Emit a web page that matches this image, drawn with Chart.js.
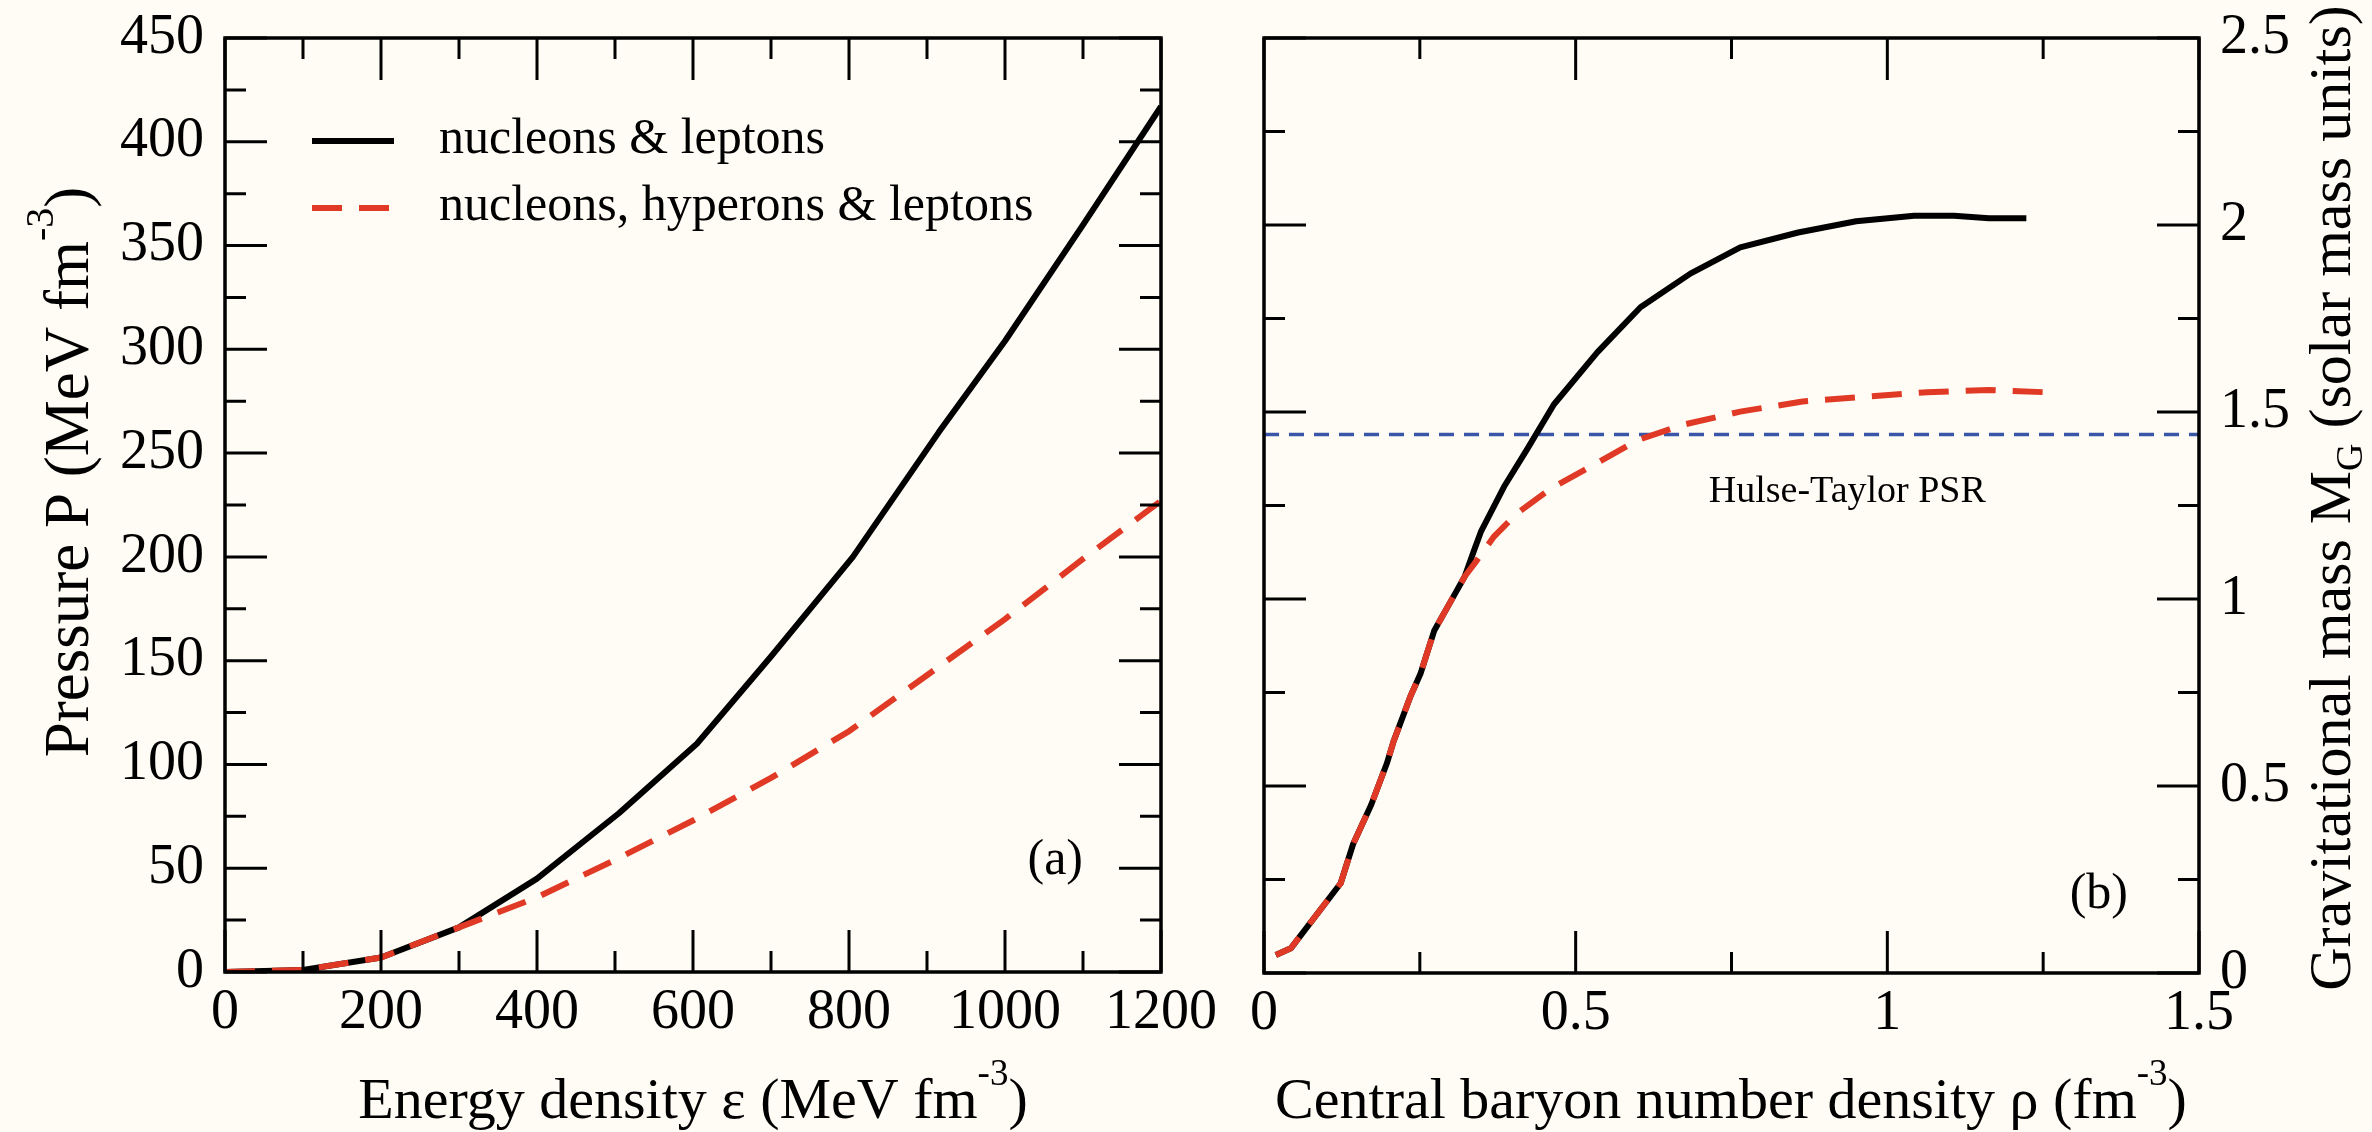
<!DOCTYPE html>
<html>
<head>
<meta charset="utf-8">
<script src="https://cdn.jsdelivr.net/npm/chart.js@4.4.1/dist/chart.umd.min.js"></script>
<style>
  html, body { margin: 0; padding: 0; background: #fffcf5; }
  #wrap { position: relative; width: 2372px; height: 1132px; overflow: hidden; }
  canvas { position: absolute; top: 0; }
  #left { left: 0; }
  #right { left: 1230px; }
</style>
</head>
<body>
<div id="wrap">
  <canvas id="left" width="1230" height="1132"></canvas>
  <canvas id="right" width="1142" height="1132"></canvas>
</div>
<script>
// panel (a): equation of state
const energyNL = [0, 100, 200, 300, 400, 505, 605, 700, 805, 915, 1000, 1100, 1200];
const pressureNL = [0, 1, 7, 21.5, 45, 76.5, 110, 152, 200, 260, 304, 360, 417];
const energyNHL = [0, 100, 200, 300, 400, 500, 600, 700, 800, 900, 1000, 1100, 1200];
const pressureNHL = [0, 1, 7, 21.5, 36, 54, 73, 93.5, 116, 143, 170, 199, 227];

// panel (b): mass vs central density
const rhoNL = [0.019, 0.043, 0.123, 0.143, 0.172, 0.197, 0.208, 0.235, 0.251, 0.273, 0.300, 0.322, 0.337,
               0.348, 0.385, 0.422, 0.465, 0.535, 0.604, 0.684, 0.764, 0.857, 0.950, 1.043, 1.107, 1.163, 1.223];
const massNL = [0.048, 0.066, 0.240, 0.345, 0.45, 0.56, 0.62, 0.74, 0.80, 0.915, 0.995, 1.06, 1.13,
                1.18, 1.30, 1.40, 1.52, 1.66, 1.78, 1.87, 1.94, 1.98, 2.01, 2.025, 2.025, 2.018, 2.018];
const rhoNHL = [0.019, 0.043, 0.123, 0.143, 0.172, 0.197, 0.208, 0.235, 0.251, 0.273, 0.300, 0.322, 0.340,
                0.369, 0.406, 0.46, 0.53, 0.60, 0.67, 0.764, 0.864, 0.964, 1.064, 1.163, 1.266];
const massNHL = [0.048, 0.066, 0.240, 0.345, 0.45, 0.56, 0.62, 0.74, 0.80, 0.915, 0.995, 1.06, 1.10,
                 1.167, 1.229, 1.295, 1.36, 1.425, 1.465, 1.501, 1.528, 1.541, 1.553, 1.559, 1.552];
const hulseTaylorRho = [0, 1.5];
const hulseTaylorMass = [1.44, 1.44];

const seriesLabels = ['nucleons & leptons', 'nucleons, hyperons & leptons'];

const FONT = '"Liberation Serif", "Times New Roman", serif';
const RED = '#e03a26';
const BLUE = '#3a56a8';
const RED_DASH = [30, 17];

function pts(xs, ys) {
  return xs.map((x, i) => ({ x: x, y: ys[i] }));
}
function fmt(v) {
  return String(+v.toFixed(2));
}

// text made of pieces: [text, size, baseline shift]
function drawRich(ctx, parts, x, y, align, rot) {
  ctx.save();
  ctx.translate(x, y);
  ctx.rotate(rot || 0);
  ctx.textAlign = 'left';
  ctx.textBaseline = 'alphabetic';
  ctx.fillStyle = '#000';
  let w = 0;
  parts.forEach(p => { ctx.font = p[1] + 'px ' + FONT; w += ctx.measureText(p[0]).width; });
  let cx = align === 'center' ? -w / 2 : (align === 'right' ? -w : 0);
  parts.forEach(p => {
    ctx.font = p[1] + 'px ' + FONT;
    ctx.fillText(p[0], cx, p[2] || 0);
    cx += ctx.measureText(p[0]).width;
  });
  ctx.restore();
}

// keep the plot box exactly where the layout padding puts it
function fixBox(size, key) {
  return function (s) {
    s[key] = size;
    s.paddingTop = 0; s.paddingBottom = 0; s.paddingLeft = 0; s.paddingRight = 0;
  };
}

// inward ticks on all 4 sides + frame + texts
const frame = {
  id: 'frame',
  afterDatasetsDraw(chart, args, o) {
    const ctx = chart.ctx, a = chart.chartArea;
    const xs = chart.scales.x, ys = chart.scales.y;
    ctx.save();
    ctx.strokeStyle = '#000';
    ctx.lineWidth = 3;
    const eps = 1e-6;
    for (let v = xs.min; v <= xs.max + eps; v += o.xMinor) {
      const len = Math.abs(v / o.xMajor - Math.round(v / o.xMajor)) < 1e-3 ? 42 : 21;
      const px = xs.getPixelForValue(v);
      ctx.beginPath();
      ctx.moveTo(px, a.bottom); ctx.lineTo(px, a.bottom - len);
      ctx.moveTo(px, a.top); ctx.lineTo(px, a.top + len);
      ctx.stroke();
    }
    for (let v = ys.min; v <= ys.max + eps; v += o.yMinor) {
      const len = Math.abs(v / o.yMajor - Math.round(v / o.yMajor)) < 1e-3 ? 42 : 21;
      const py = ys.getPixelForValue(v);
      ctx.beginPath();
      ctx.moveTo(a.left, py); ctx.lineTo(a.left + len, py);
      ctx.moveTo(a.right, py); ctx.lineTo(a.right - len, py);
      ctx.stroke();
    }
    ctx.lineWidth = 3.5;
    ctx.strokeRect(a.left, a.top, a.right - a.left, a.bottom - a.top);

    // legend (panel a only)
    if (o.legend) {
      const ds = chart.data.datasets;
      const lx = a.left + 87, tx = a.left + 214;
      [[0, 103], [1, 170]].forEach(([i, dy]) => {
        const y = a.top + dy;
        ctx.beginPath();
        ctx.lineWidth = ds[i].borderWidth;
        ctx.strokeStyle = ds[i].borderColor;
        ctx.setLineDash(ds[i].borderDash || []);
        ctx.moveTo(lx, y); ctx.lineTo(lx + 82, y);
        ctx.stroke();
        ctx.setLineDash([]);
        drawRich(ctx, [[ds[i].label, 50]], tx, y + 12, 'left');
      });
    }
    // panel tag and notes anchored to data coordinates
    (o.notes || []).forEach(n => {
      drawRich(ctx, [[n.text, n.size]], xs.getPixelForValue(n.x), ys.getPixelForValue(n.y), n.align);
    });
    ctx.restore();
  },
  afterDraw(chart, args, o) {
    const ctx = chart.ctx;
    (o.titles || []).forEach(t => drawRich(ctx, t.parts, t.x, t.y, 'center', t.rot));
  }
};

const tickFont = { family: FONT, size: 56 };

// ---- panel (a)
new Chart(document.getElementById('left'), {
  type: 'scatter',
  data: {
    datasets: [
      { label: seriesLabels[0], data: pts(energyNL, pressureNL), showLine: true, pointRadius: 0,
        borderColor: '#000', borderWidth: 6, order: 2, borderJoinStyle: 'round' },
      { label: seriesLabels[1], data: pts(energyNHL, pressureNHL), showLine: true, pointRadius: 0,
        borderColor: RED, borderWidth: 6, borderDash: RED_DASH, order: 1 }
    ]
  },
  options: {
    responsive: false,
    animation: false,
    events: [],
    layout: { padding: { top: 38, right: 69, left: 0, bottom: 0 } },
    plugins: {
      legend: { display: false },
      tooltip: { enabled: false },
      frame: {
        xMajor: 200, xMinor: 100, yMajor: 50, yMinor: 25, legend: true,
        notes: [{ text: '(a)', size: 50, x: 1100, y: 47, align: 'right' }],
        titles: [
          { parts: [['Energy density ε (MeV fm', 58], ['-3', 37, -33], [')', 58]], x: 693, y: 1118, rot: 0 },
          { parts: [['Pressure P (MeV fm', 63], ['-3', 40, -35], [')', 63]], x: 88, y: 472, rot: -Math.PI / 2 }
        ]
      }
    },
    scales: {
      x: {
        type: 'linear', min: 0, max: 1200,
        ticks: { stepSize: 200, font: tickFont, color: '#000', padding: 8, maxRotation: 0, callback: fmt },
        grid: { display: false, drawTicks: false },
        border: { display: false },
        afterFit: fixBox(160, 'height')
      },
      y: {
        type: 'linear', min: 0, max: 450,
        ticks: { stepSize: 50, font: tickFont, color: '#000', padding: 21, callback: fmt },
        grid: { display: false, drawTicks: false },
        border: { display: false },
        afterFit: fixBox(225, 'width')
      }
    }
  },
  plugins: [frame]
});

// ---- panel (b)
new Chart(document.getElementById('right'), {
  type: 'scatter',
  data: {
    datasets: [
      { label: seriesLabels[0], data: pts(rhoNL, massNL), showLine: true, pointRadius: 0,
        borderColor: '#000', borderWidth: 6, order: 2, borderJoinStyle: 'round' },
      { label: seriesLabels[1], data: pts(rhoNHL, massNHL), showLine: true, pointRadius: 0,
        borderColor: RED, borderWidth: 6, borderDash: RED_DASH, order: 1 },
      { label: 'Hulse-Taylor PSR', data: pts(hulseTaylorRho, hulseTaylorMass), showLine: true, pointRadius: 0,
        borderColor: BLUE, borderWidth: 3.5, borderDash: [15, 10], order: 3 }
    ]
  },
  options: {
    responsive: false,
    animation: false,
    events: [],
    layout: { padding: { top: 38, right: 0, left: 34, bottom: 0 } },
    plugins: {
      legend: { display: false },
      tooltip: { enabled: false },
      frame: {
        xMajor: 0.5, xMinor: 0.25, yMajor: 0.5, yMinor: 0.25,
        notes: [
          { text: '(b)', size: 50, x: 1.386, y: 0.175, align: 'right' },
          { text: 'Hulse-Taylor PSR', size: 38, x: 1.158, y: 1.26, align: 'right' }
        ],
        titles: [
          { parts: [['Central baryon number density ρ (fm', 58], ['-3', 37, -33], [')', 58]], x: 501, y: 1118, rot: 0 },
          { parts: [['Gravitational mass M', 60], ['G', 38, 12], [' (solar mass units)', 60]], x: 1120, y: 498, rot: -Math.PI / 2 }
        ]
      }
    },
    scales: {
      x: {
        type: 'linear', min: 0, max: 1.5,
        ticks: { stepSize: 0.5, font: tickFont, color: '#000', padding: 8, maxRotation: 0, callback: fmt },
        grid: { display: false, drawTicks: false },
        border: { display: false },
        afterFit: fixBox(159, 'height')
      },
      y: {
        type: 'linear', position: 'right', min: 0, max: 2.5,
        ticks: { stepSize: 0.5, font: tickFont, color: '#000', padding: 21, callback: fmt },
        grid: { display: false, drawTicks: false },
        border: { display: false },
        afterFit: fixBox(173, 'width')
      }
    }
  },
  plugins: [frame]
});
</script>
</body>
</html>
